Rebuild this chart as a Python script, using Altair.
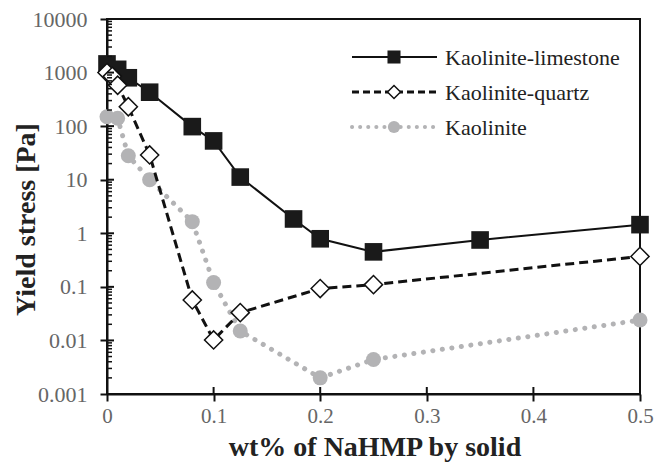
import altair as alt
import pandas as pd

# ---- data ----
names = ["Kaolinite-limestone", "Kaolinite-quartz", "Kaolinite"]

lime_x = [0, 0.01, 0.02, 0.04, 0.08, 0.1, 0.125, 0.175, 0.2, 0.25, 0.35, 0.5]
lime_y = [1450, 1150, 800, 430, 98, 53, 11.2, 1.85, 0.79, 0.45, 0.75, 1.45]

quartz_x = [0, 0.005, 0.01, 0.02, 0.04, 0.08, 0.1, 0.125, 0.2, 0.25, 0.5]
quartz_y = [1000, 850, 580, 230, 29, 0.057, 0.0102, 0.033, 0.093, 0.11, 0.37]

kao_x = [0, 0.01, 0.02, 0.04, 0.08, 0.1, 0.125, 0.2, 0.25, 0.5]
kao_y = [150, 140, 28, 10, 1.65, 0.12, 0.015, 0.002, 0.0044, 0.024]

x_ticks = [0, 0.1, 0.2, 0.3, 0.4, 0.5]
y_ticks = [0.001, 0.01, 0.1, 1, 10, 100, 1000, 10000]
minor_ticks = [m * d for d in [0.001, 0.01, 0.1, 1, 10, 100, 1000] for m in range(2, 10)]

W, H = 533, 375
FONT = "Liberation Serif"
GRAY = "#b3b3b5"

xscale = alt.Scale(domain=[0, 0.5], nice=False, zero=False)
yscale = alt.Scale(type="log", domain=[0.001, 10000], nice=False)

xaxis = alt.Axis(values=x_ticks, title="wt% of NaHMP by solid",
                 labelExpr="format(datum.value, '~g')",
                 titleBaseline="alphabetic", titleY=61, titleX=W / 2 + 1)
yaxis = alt.Axis(values=y_ticks, title="Yield stress [Pa]",
                 labelExpr="datum.value >= 1 ? format(datum.value, 'd') : format(datum.value, '.3~f')",
                 titleBaseline="alphabetic", titleX=-73, titleY=200)

X = alt.X("x:Q", scale=xscale, axis=xaxis)
Y = alt.Y("y:Q", scale=yscale, axis=yaxis)

def frame(xs, ys):
    return pd.DataFrame({"x": xs, "y": ys})

def enc(ch):
    return ch.encode(x=X, y=Y)

kao = alt.Chart(frame(kao_x, kao_y))
lime = alt.Chart(frame(lime_x, lime_y))
qtz = alt.Chart(frame(quartz_x, quartz_y))

layers = [
    enc(kao.mark_line(color=GRAY, strokeWidth=5, strokeDash=[0.1, 9.5], strokeCap="round")),
    enc(kao.mark_point(shape="circle", filled=True, color=GRAY, size=225, opacity=1)),
    enc(lime.mark_line(color="#111", strokeWidth=2)),
    enc(lime.mark_point(shape="square", filled=True, color="#1a1a1a", size=310, opacity=1)),
    enc(qtz.mark_line(color="#111", strokeWidth=3, strokeDash=[9, 5])),
    enc(qtz.mark_point(shape="diamond", filled=True, fill="white", stroke="#111",
                       strokeWidth=1.5, size=330, opacity=1)),
]

# inward tick marks (major + minor on y, major on x)
layers.append(alt.Chart(pd.DataFrame({"y": minor_ticks})).mark_rule(color="#111", strokeWidth=1.5).encode(
    y=Y, x=alt.value(0), x2=alt.value(5)))
layers.append(alt.Chart(pd.DataFrame({"y": y_ticks})).mark_rule(color="#111", strokeWidth=2).encode(
    y=Y, x=alt.value(0), x2=alt.value(7)))
layers.append(alt.Chart(pd.DataFrame({"x": x_ticks})).mark_rule(color="#111", strokeWidth=2).encode(
    x=X, y=alt.value(H - 7), y2=alt.value(H)))

# manual legend
leg_y = [38, 73, 108]
lx0, lx1, lm, lt = 245, 330, 287, 338
one = pd.DataFrame({"n": [0]})
styles = [
    dict(line=dict(color="#111", strokeWidth=2),
         pt=dict(shape="square", filled=True, color="#1a1a1a", size=170, opacity=1)),
    dict(line=dict(color="#111", strokeWidth=3, strokeDash=[7, 4]),
         pt=dict(shape="diamond", filled=True, fill="white", stroke="#111", strokeWidth=1.5, size=170, opacity=1)),
    dict(line=dict(color=GRAY, strokeWidth=4, strokeDash=[0.1, 8], strokeCap="round"),
         pt=dict(shape="circle", filled=True, color=GRAY, size=150, opacity=1)),
]
for name, yy, st in zip(names, leg_y, styles):
    layers.append(alt.Chart(one).mark_rule(**st["line"]).encode(
        x=alt.value(lx0), x2=alt.value(lx1), y=alt.value(yy)))
    layers.append(alt.Chart(one).mark_point(**st["pt"]).encode(
        x=alt.value(lm), y=alt.value(yy)))
    layers.append(alt.Chart(pd.DataFrame({"name": [name]})).mark_text(
        align="left", baseline="middle", font=FONT, fontSize=22, color="#222").encode(
        text="name:N", x=alt.value(lt), y=alt.value(yy + 1)))

chart = alt.layer(*layers).properties(
    width=W, height=H,
    autosize=alt.AutoSizeParams(type="none"),
    padding={"left": 107, "top": 19, "right": 15, "bottom": 68},
).configure_view(
    stroke="#111", strokeWidth=2
).configure_axis(
    grid=False,
    domainColor="#111", domainWidth=2,
    tickColor="#111", tickWidth=2, tickSize=7,
    labelFont=FONT, labelFontSize=22, labelColor="#666666",
    titleFont=FONT, titleFontSize=28, titleFontWeight="bold", titleColor="#222",
).configure_axisX(
    labelPadding=4, labelFontSize=21, labelFlush=False,
).configure_axisY(
    labelPadding=13,
)

chart.save("out.html", embed_options={"renderer": "svg", "actions": False})
